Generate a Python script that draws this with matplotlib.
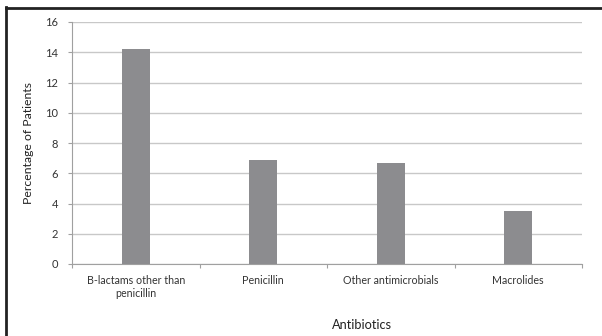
import matplotlib
matplotlib.use('Agg')
import numpy as np
import matplotlib.pyplot as plt
from matplotlib.lines import Line2D

categories = ['B-lactams other than\npenicillin', 'Penicillin', 'Other antimicrobials', 'Macrolides']
percentages = [14.2, 6.9, 6.7, 3.5]
y_ticks = [0, 2, 4, 6, 8, 10, 12, 14, 16]

plt.rcParams['font.family'] = ['Lato', 'DejaVu Sans']

fig = plt.figure(figsize=(6.02, 3.36), dpi=100)
ax = fig.add_axes([72/602, 1 - 264/336, 510/602, 242/336])

x = np.arange(len(categories))
ax.bar(x, percentages, width=0.22, color='#8c8c8f', zorder=3)

ax.set_xlim(-0.5, len(categories) - 0.5)
ax.set_ylim(0, 16)
ax.set_yticks(y_ticks)
ax.set_yticklabels([str(t) for t in y_ticks], fontsize=8, color='#333333')
ax.yaxis.grid(True, color='#c8c8c8', linewidth=1, zorder=0)

# x ticks at category boundaries, labels centred
ax.set_xticks(np.arange(-0.5, len(categories)), minor=False)
ax.set_xticklabels([])
ax.set_xticks(x, minor=True)
ax.set_xticklabels(categories, minor=True, fontsize=7.7, color='#333333', linespacing=1.25)
ax.tick_params(axis='x', which='minor', length=0, pad=8)
ax.tick_params(axis='x', which='major', length=3, color='#a0a0a0')
ax.tick_params(axis='y', length=3, color='#a0a0a0', pad=7)

for s in ['top', 'right']:
    ax.spines[s].set_visible(False)
ax.spines['left'].set_color('#a0a0a0')
ax.spines['bottom'].set_color('#a0a0a0')

ax.set_ylabel('Percentage of Patients', fontsize=8.8, color='#222222', labelpad=8)
fig.text(362/602, 1 - 325/336, 'Antibiotics', fontsize=9.2, color='#222222', ha='center', va='center')

# frame lines on top and left of the figure
fig.add_artist(Line2D([6/602, 6/602], [0, 1 - 7/336], color='#222222', linewidth=2))
fig.add_artist(Line2D([6/602, 1], [1 - 8/336, 1 - 8/336], color='#222222', linewidth=2))

plt.savefig('out.png', dpi=100)
